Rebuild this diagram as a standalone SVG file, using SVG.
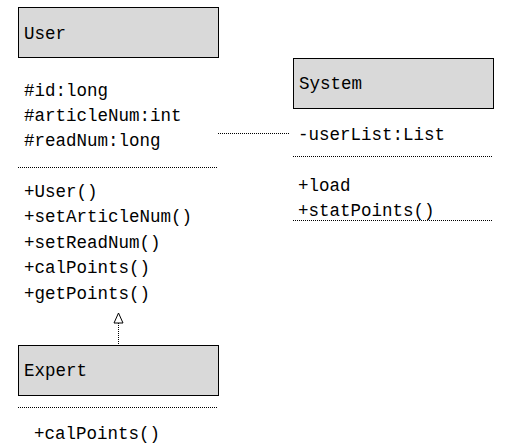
<svg xmlns="http://www.w3.org/2000/svg" width="509" height="445" viewBox="0 0 509 445">
<style>
.box{fill:#d9d9d9;stroke:#000;stroke-width:1}
.t{font-family:"Liberation Mono","Noto Sans CJK SC",monospace;font-size:17.5px;fill:#000}
.sep{stroke:#000;stroke-width:1;stroke-dasharray:1,1;fill:none}
</style>
<rect width="509" height="445" fill="#fff"/>
<g id="connectors">
<line class="sep" x1="218" y1="133.5" x2="289" y2="133.5"/>
<line class="sep" x1="118.5" y1="323" x2="118.5" y2="345"/>
<polygon points="118.5,313 114,323 123,323" fill="#fff" stroke="#000" stroke-width="1"/>
</g>
<g id="User">
<rect class="box" x="18.5" y="7.5" width="200" height="50"/>
<text class="t" x="24" y="39">User</text>
<text class="t" x="24" y="96">#id:long</text>
<text class="t" x="24" y="121">#articleNum:int</text>
<text class="t" x="24" y="146">#readNum:long</text>
<line class="sep" x1="18" y1="167.5" x2="218" y2="167.5"/>
<text class="t" x="24" y="197">+User()</text>
<text class="t" x="24" y="222">+setArticleNum()</text>
<text class="t" x="24" y="248">+setReadNum()</text>
<text class="t" x="24" y="273">+calPoints()</text>
<text class="t" x="24" y="299">+getPoints()</text>
</g>
<g id="Expert">
<rect class="box" x="18.5" y="345.5" width="200" height="50"/>
<text class="t" x="24" y="376">Expert</text>
<line class="sep" x1="18" y1="407.5" x2="218" y2="407.5"/>
<text class="t" x="34" y="439">+calPoints()</text>
</g>
<g id="System">
<rect class="box" x="293.5" y="58.5" width="200" height="50"/>
<text class="t" x="299" y="89">System</text>
<text class="t" x="298" y="140">-userList:List</text>
<line class="sep" x1="293" y1="156.5" x2="493" y2="156.5"/>
<text class="t" x="298" y="191">+load</text>
<text class="t" x="298" y="216">+statPoints()</text>
<line class="sep" x1="293" y1="220.5" x2="493" y2="220.5"/>
</g>
</svg>
